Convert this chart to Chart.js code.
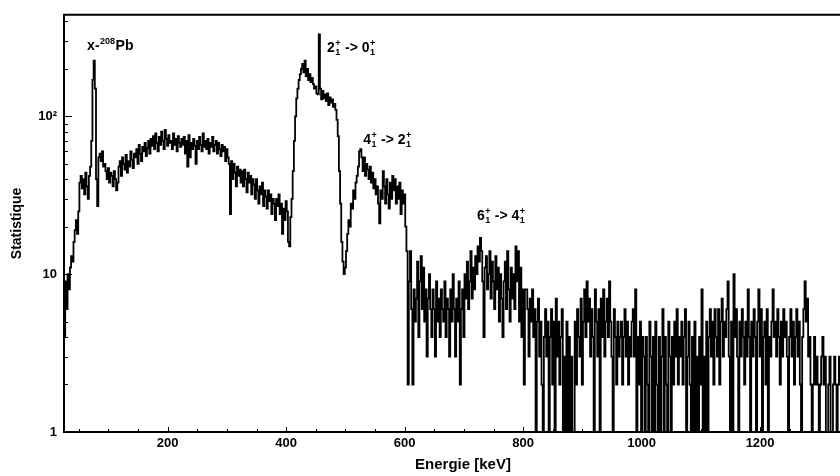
<!DOCTYPE html>
<html>
<head>
<meta charset="utf-8">
<script src="https://cdn.jsdelivr.net/npm/chart.js@4.4.1/dist/chart.umd.min.js"></script>
<style>
html,body{margin:0;padding:0;background:#fff;overflow:hidden;width:840px;height:476px;}
canvas{display:block;}
</style>
</head>
<body>
<canvas id="c" width="862" height="476"></canvas>
<script>
// Histogram binning (keV)
const binStartKeV = 25;
const binWidthKeV = 2;
// Counts per 2 keV bin, starting at 25 keV, 10 bins (20 keV) per row
const counts = [
 4, 9, 6, 10, 8, 11, 13, 12, 16, 19,
 22, 18, 25, 38, 42, 35, 40, 32, 44, 36,
 30, 42, 48, 70, 170, 225, 150, 40, 27, 55,
 58, 52, 60, 48, 50, 45, 40, 47, 38, 44,
 42, 36, 45, 40, 34, 38, 48, 52, 42, 55,
 50, 46, 57, 44, 52, 48, 60, 53, 47, 58,
 55, 62, 50, 66, 58, 52, 64, 60, 68, 56,
 63, 70, 58, 72, 65, 75, 62, 78, 68, 60,
 74, 66, 80, 70, 62, 82, 72, 65, 76, 68,
 70, 62, 78, 66, 72, 60, 75, 68, 64, 72,
 66, 74, 58, 70, 48, 76, 55, 68, 62, 72,
 65, 50, 70, 62, 74, 66, 60, 78, 64, 70,
 62, 72, 58, 68, 64, 74, 60, 66, 70, 58,
 68, 62, 56, 66, 60, 64, 52, 62, 55, 50,
 24, 52, 40, 50, 44, 36, 48, 42, 46, 38,
 45, 36, 46, 40, 33, 44, 38, 42, 32, 40,
 37, 30, 40, 34, 28, 36, 32, 38, 27, 34,
 31, 26, 34, 29, 32, 24, 30, 28, 22, 30,
 27, 32, 24, 28, 18, 26, 22, 29, 25, 16,
 15, 23, 30, 45, 70, 100, 130, 150, 170, 185,
 200, 215, 190, 225, 180, 200, 170, 185, 165, 175,
 160, 150, 155, 140, 138, 330, 150, 128, 145, 130,
 138, 125, 140, 118, 132, 122, 128, 115, 120, 110,
 95, 75, 45, 28, 16, 12, 10, 11, 14, 18,
 22, 20, 28, 26, 34, 30, 38, 42, 48, 60,
 62, 55, 45, 55, 42, 50, 46, 40, 48, 38,
 44, 35, 40, 32, 36, 28, 21, 34, 30, 45,
 36, 28, 40, 32, 26, 38, 30, 42, 34, 40,
 28, 36, 30, 38, 24, 34, 28, 32, 20, 14,
 2, 9, 14, 6, 2, 8, 5, 7, 12, 4,
 9, 13, 6, 11, 5, 8, 3, 7, 10, 6,
 4, 8, 6, 3, 9, 5, 7, 4, 8, 6,
 5, 9, 4, 7, 6, 3, 8, 5, 10, 6,
 3, 7, 5, 9, 2, 6, 8, 4, 10, 7,
 12, 6, 9, 14, 7, 11, 8, 13, 10, 15,
 12, 17, 14, 9, 4, 11, 13, 8, 10, 14,
 7, 12, 9, 6, 13, 8, 11, 5, 10, 7,
 4, 9, 12, 6, 14, 8, 5, 11, 7, 10,
 6, 15, 9, 14, 5, 11, 4, 8, 2, 8,
 8, 6, 3, 7, 5, 8, 4, 6, 1, 5,
 7, 3, 5, 2, 1, 4, 6, 3, 5, 1,
 4, 6, 2, 5, 1, 7, 3, 5, 2, 4,
 6, 1, 3, 1, 5, 1, 4, 1, 3, 1,
 1, 5, 2, 6, 4, 3, 7, 2, 5, 8,
 4, 9, 5, 7, 3, 6, 4, 1, 8, 5,
 3, 6, 1, 7, 4, 8, 3, 5, 7, 4,
 9, 5, 3, 1, 6, 4, 2, 5, 3, 4,
 5, 2, 4, 6, 3, 5, 2, 4, 3, 5,
 6, 3, 8, 1, 4, 2, 5, 1, 4, 3,
 1, 4, 2, 1, 5, 3, 1, 4, 1, 5,
 2, 1, 4, 1, 3, 6, 1, 4, 2, 1,
 5, 3, 1, 4, 2, 5, 3, 6, 2, 4,
 3, 5, 2, 4, 6, 1, 3, 5, 2, 1,
 4, 1, 5, 1, 3, 1, 4, 2, 8, 1,
 3, 1, 5, 1, 4, 6, 3, 5, 2, 6,
 4, 3, 6, 2, 5, 7, 3, 5, 4, 6,
 9, 3, 1, 5, 1, 10, 4, 6, 3, 1,
 5, 3, 6, 4, 2, 5, 3, 8, 4, 1,
 5, 3, 6, 4, 1, 5, 8, 3, 6, 1,
 4, 5, 2, 6, 1, 4, 3, 5, 8, 4,
 5, 3, 6, 4, 2, 5, 3, 6, 4, 5,
 3, 1, 4, 6, 3, 5, 2, 4, 6, 3,
 5, 2, 1, 4, 6, 9, 5, 7, 3, 4,
 2, 1, 2, 4, 2, 3, 2, 1, 2, 3,
 4, 2, 3, 1, 1, 2, 3, 1, 1, 2,
 3, 2, 1, 2, 3, 2, 1, 2, 3, 1,
 2, 3, 1, 2, 1, 3, 2, 1, 2, 3,
 1, 2, 3, 2
];
// Axis ranges and ticks (the frame continues a little past the right edge of the window)
const xRange = [25, 1372];
const yRange = [1, 440];
const xTickValues = [200, 400, 600, 800, 1000, 1200];
const xMinorStep = 50;
const yTickValues = [1, 10, 100];
const yTickLabels = ['1', '10', '10\u00B2'];
// Annotations, anchored in data coords (keV, counts); pieces: [text] or [sup, sub]
const annoX = [64, 469, 530, 722];
const annoY = [262, 255, 67, 22];
const annoPieces = [
  [['x-'], ['208', ''], ['Pb']],
  [['2'], ['+', '1'], [' -> 0'], ['+', '1']],
  [['4'], ['+', '1'], [' -> 2'], ['+', '1']],
  [['6'], ['+', '1'], [' -> 4'], ['+', '1']]
];
const xTitle = 'Energie [keV]';
const yTitle = 'Statistique';

const FONT = "'Liberation Sans', Arial, Helvetica, sans-serif";
Chart.defaults.font.family = FONT;
Chart.defaults.color = '#000';

const points = counts.map((c, i) => ({ x: binStartKeV + binWidthKeV * (i + 0.5), y: c }));

const frameTicks = {
  id: 'frameTicks',
  afterDraw(chart) {
    const { ctx, chartArea: a, scales } = chart;
    const xs = scales.x, ys = scales.y;
    ctx.save();
    ctx.strokeStyle = '#000';
    ctx.lineWidth = 2;
    ctx.beginPath();
    ctx.moveTo(a.right, a.top);
    ctx.lineTo(a.left, a.top);
    ctx.lineTo(a.left, a.bottom);
    ctx.lineTo(a.right, a.bottom);
    ctx.stroke();
    ctx.lineWidth = 1;
    ctx.beginPath();
    for (let v = Math.ceil(xs.min / xMinorStep) * xMinorStep; v <= xs.max; v += xMinorStep) {
      const px = Math.round(xs.getPixelForValue(v)) + 0.5;
      const len = (v % 200 === 0) ? 5 : 3;
      ctx.moveTo(px, a.bottom);
      ctx.lineTo(px, a.bottom - len);
    }
    for (let d = 1; d <= 100; d *= 10) {
      for (let k = 1; k <= 9; k++) {
        const v = d * k;
        if (v > ys.max) continue;
        const py = Math.round(ys.getPixelForValue(v)) + 0.5;
        const len = (k === 1) ? 8 : 4;
        ctx.moveTo(a.left, py);
        ctx.lineTo(a.left + len, py);
      }
    }
    ctx.stroke();

    // annotations
    ctx.fillStyle = '#000';
    ctx.textBaseline = 'alphabetic';
    ctx.textAlign = 'left';
    const mainF = 'bold 14px ' + FONT;
    const smallF = 'bold 9px ' + FONT;
    annoPieces.forEach((pieces, i) => {
      let px = xs.getPixelForValue(annoX[i]);
      const py = ys.getPixelForValue(annoY[i]);
      pieces.forEach(p => {
        if (p.length === 1) {
          ctx.font = mainF;
          ctx.fillText(p[0], px, py);
          px += ctx.measureText(p[0]).width;
        } else {
          ctx.font = smallF;
          const w1 = p[0] ? ctx.measureText(p[0]).width : 0;
          const w2 = p[1] ? ctx.measureText(p[1]).width : 0;
          if (p[0]) ctx.fillText(p[0], px + 0.5, py - 6);
          if (p[1]) ctx.fillText(p[1], px + 0.5, py + 3);
          px += Math.max(w1, w2) + 1;
        }
      });
    });
    ctx.restore();
  }
};

new Chart(document.getElementById('c'), {
  type: 'line',
  data: {
    datasets: [{
      data: points,
      borderColor: '#000',
      borderWidth: 1.8,
      pointRadius: 0,
      fill: false,
      stepped: 'middle',
      tension: 0
    }]
  },
  options: {
    responsive: false,
    animation: false,
    devicePixelRatio: 1,
    events: [],
    layout: { padding: { top: 9, right: 0, left: 0, bottom: 0 } },
    plugins: { legend: { display: false }, tooltip: { enabled: false } },
    scales: {
      x: {
        type: 'linear',
        min: xRange[0],
        max: xRange[1],
        grid: { display: false, drawTicks: false },
        border: { display: false },
        afterBuildTicks: s => { s.ticks = xTickValues.map(v => ({ value: v })); },
        afterFit: s => { s.height = 44; },
        ticks: {
          padding: 4,
          maxRotation: 0,
          autoSkip: false,
          font: { size: 13, weight: 'bold' },
          color: '#000',
          callback: v => String(v)
        },
        title: {
          display: true,
          text: xTitle,
          font: { size: 15, weight: 'bold' },
          color: '#000',
          padding: { top: 0, bottom: 2 }
        }
      },
      y: {
        type: 'logarithmic',
        min: yRange[0],
        max: yRange[1],
        grid: { display: false, drawTicks: false },
        border: { display: false },
        afterBuildTicks: s => { s.ticks = yTickValues.map(v => ({ value: v })); },
        afterFit: s => { s.width = 64; },
        ticks: {
          padding: 7,
          autoSkip: false,
          font: { size: 13, weight: 'bold' },
          color: '#000',
          callback: (v) => {
            const i = yTickValues.indexOf(v);
            return i >= 0 ? yTickLabels[i] : '';
          }
        },
        title: {
          display: true,
          text: yTitle,
          font: { size: 14, weight: 'bold' },
          color: '#000',
          padding: { top: 9, bottom: 0 }
        }
      }
    }
  },
  plugins: [frameTicks]
});
</script>
</body>
</html>
